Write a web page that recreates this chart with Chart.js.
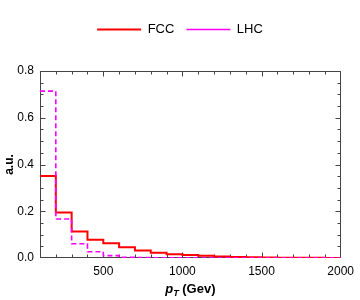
<!DOCTYPE html>
<html>
<head>
<meta charset="utf-8">
<script src="https://cdn.jsdelivr.net/npm/chart.js@4.4.1/dist/chart.umd.min.js"></script>
<style>
body { margin: 0; background: #fff; }
</style>
</head>
<body>
<canvas id="chart" width="360" height="300"></canvas>
<script>
// histogram bins, width 100 GeV
const binEdges = [100, 200, 300, 400, 500, 600, 700, 800, 900, 1000,
    1100, 1200, 1300, 1400, 1500, 1600, 1700, 1800, 1900, 2000];
const fccValues = [0.351, 0.195, 0.113, 0.078, 0.063, 0.046, 0.032, 0.022, 0.016, 0.013,
    0.0095, 0.006, 0.004, 0.003, 0.002, 0.0015, 0.001, 0.001, 0.0005];
const lhcValues = [0.714, 0.167, 0.061, 0.027, 0.010, 0.003, 0.002, 0.001, 0.0005, 0.0003,
    0.0002, 0.0001, 0, 0, 0, 0, 0, 0, 0];
const xTicks = [500, 1000, 1500, 2000];
const yTicks = [0, 0.2, 0.4, 0.6, 0.8];
const xMinorTicks = [200, 300, 400, 500, 600, 700, 800, 900, 1000, 1100, 1200, 1300,
    1400, 1500, 1600, 1700, 1800, 1900];
const yMinorTicks = [0.05, 0.1, 0.15, 0.2, 0.25, 0.3, 0.35, 0.4, 0.45, 0.5, 0.55,
    0.6, 0.65, 0.7, 0.75];

// value i holds from binEdges[i] to binEdges[i+1] (stepped: 'before')
function toSteps(values) {
    const pts = values.map((v, i) => ({ x: binEdges[i], y: v }));
    pts.push({ x: binEdges[binEdges.length - 1], y: values[values.length - 1] });
    return pts;
}

const font = "'Liberation Sans', Arial, sans-serif";
Chart.defaults.font.family = font;
Chart.defaults.color = '#000';

// frame with inward ticks on all four sides, plus the x title with subscript
const framePlugin = {
    id: 'frame',
    beforeDatasetsDraw(chart) {
        const { ctx, chartArea: a, scales: { x, y } } = chart;
        ctx.save();
        ctx.strokeStyle = '#444';
        ctx.lineWidth = 1;
        const L = Math.round(a.left) + 0.5, R = Math.round(a.right) - 0.5;
        const T = Math.round(a.top) + 0.5, B = Math.round(a.bottom) - 0.5;
        ctx.strokeRect(L, T, R - L, B - T);
        ctx.beginPath();
        xMinorTicks.forEach(v => {
            const px = Math.round(x.getPixelForValue(v)) + 0.5;
            const len = xTicks.includes(v) ? 5 : 3;
            ctx.moveTo(px, B); ctx.lineTo(px, B - len);
            ctx.moveTo(px, T); ctx.lineTo(px, T + len);
        });
        yMinorTicks.forEach(v => {
            const py = Math.round(y.getPixelForValue(v)) + 0.5;
            const len = yTicks.some(t => Math.abs(t - v) < 1e-9) ? 5 : 3;
            ctx.moveTo(L, py); ctx.lineTo(L + len, py);
            ctx.moveTo(R, py); ctx.lineTo(R - len, py);
        });
        ctx.stroke();
        ctx.restore();
    },
    afterDraw(chart) {
        const { ctx, chartArea: a } = chart;
        ctx.save();
        ctx.fillStyle = '#000';
        ctx.textBaseline = 'alphabetic';
        const f1 = 'italic bold 13px ' + font;
        const f2 = 'italic bold 9px ' + font;
        const f3 = 'bold 13px ' + font;
        ctx.font = f1; const w1 = ctx.measureText('p').width;
        ctx.font = f2; const w2 = ctx.measureText('T').width;
        ctx.font = f3; const w3 = ctx.measureText(' (Gev)').width;
        let xs = (a.left + a.right) / 2 - (w1 + w2 + w3) / 2;
        const base = 293;
        ctx.font = f1; ctx.fillText('p', xs, base); xs += w1;
        ctx.font = f2; ctx.fillText('T', xs, base + 3); xs += w2;
        ctx.font = f3; ctx.fillText(' (Gev)', xs, base);
        ctx.restore();
    }
};

new Chart(document.getElementById('chart'), {
    type: 'line',
    data: {
        datasets: [{
            label: 'FCC',
            data: toSteps(fccValues),
            borderColor: '#ff0000',
            borderWidth: 2,
            stepped: 'before',
            pointRadius: 0,
            fill: false,
            order: 1
        }, {
            label: 'LHC',
            data: toSteps(lhcValues),
            borderColor: '#ff00ff',
            borderWidth: 1.6,
            borderDash: [5, 3],
            stepped: 'before',
            pointRadius: 0,
            fill: false,
            order: 0
        }]
    },
    options: {
        responsive: false,
        animation: false,
        layout: { padding: { top: 11, right: 0, left: 0, bottom: 0 } },
        plugins: {
            tooltip: { enabled: false },
            legend: {
                position: 'top',
                labels: {
                    usePointStyle: true,
                    pointStyle: 'line',
                    pointStyleWidth: 44,
                    padding: 12,
                    font: { size: 13 },
                    sort: (a, b) => a.datasetIndex - b.datasetIndex
                }
            }
        },
        scales: {
            x: {
                type: 'linear',
                min: 100,
                max: 2000,
                grid: { display: false, drawTicks: false },
                border: { display: false },
                afterBuildTicks: s => { s.ticks = xTicks.map(v => ({ value: v })); },
                ticks: { font: { size: 12 }, padding: 6, maxRotation: 0, callback: v => String(v) },
                afterFit: s => { s.height = 42; }
            },
            x2: {
                type: 'linear',
                position: 'top',
                grid: { display: false, drawTicks: false },
                border: { display: false },
                ticks: { display: false },
                afterFit: s => { s.height = 25; }
            },
            y: {
                min: 0,
                max: 0.8,
                grid: { display: false, drawTicks: false },
                border: { display: false },
                afterBuildTicks: s => { s.ticks = yTicks.map(v => ({ value: v })); },
                ticks: { font: { size: 12 }, padding: 6, callback: v => v.toFixed(1) },
                title: { display: true, text: 'a.u.', font: { size: 12, weight: 'bold' }, padding: { top: 2, bottom: 0 } },
                afterFit: s => { s.width = 40; }
            },
            y2: {
                position: 'right',
                grid: { display: false, drawTicks: false },
                border: { display: false },
                ticks: { display: false },
                afterFit: s => { s.width = 15; }
            }
        }
    },
    plugins: [framePlugin]
});
</script>
</body>
</html>
